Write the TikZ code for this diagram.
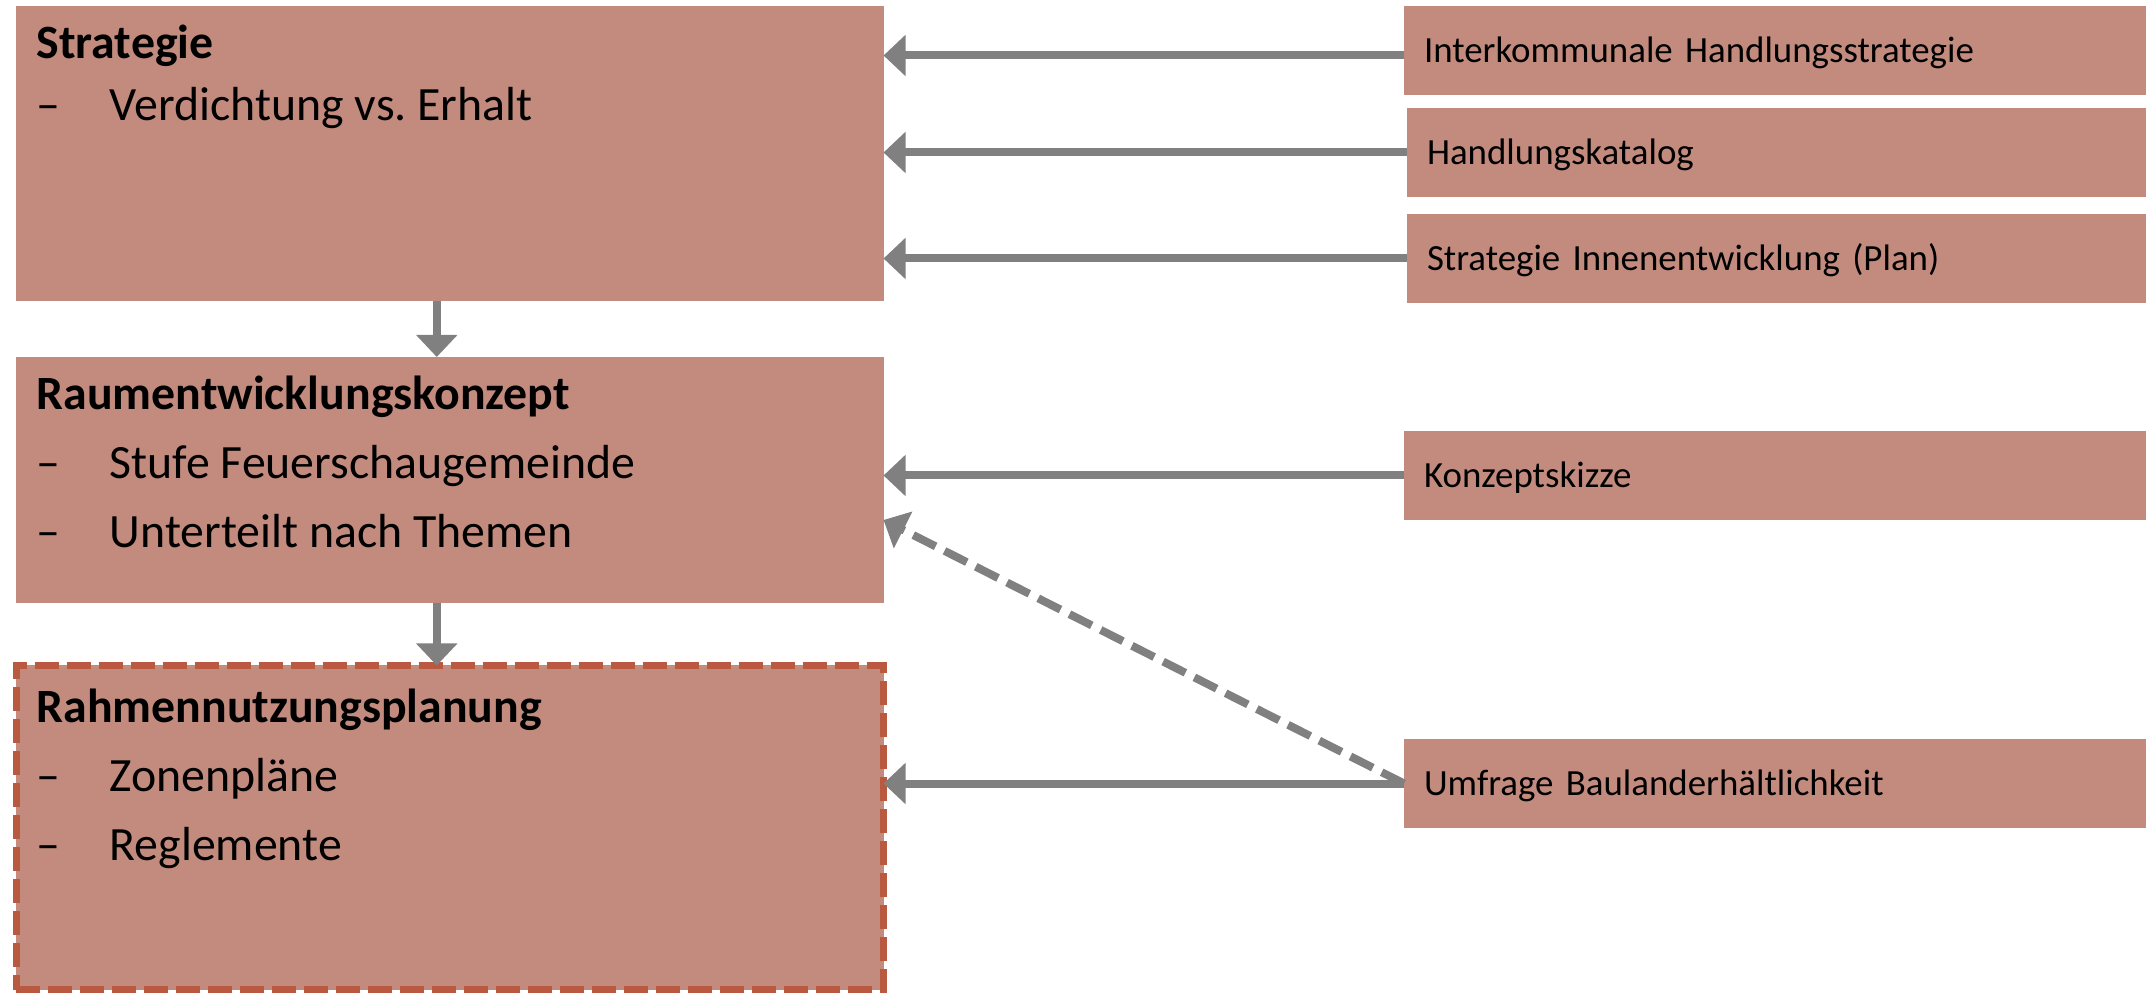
\documentclass[tikz,border=0pt]{standalone}
\usepackage{fontspec}
\setmainfont{Carlito}
\usepackage{tikz}
\usetikzlibrary{arrows.meta}
\usetikzlibrary{calc}
\frenchspacing

\definecolor{boxred}{RGB}{194,139,125}
\definecolor{edgered}{RGB}{184,89,64}
\definecolor{arrowgray}{RGB}{128,128,128}

\begin{document}
\begin{tikzpicture}[
    stage/.style = {fill=boxred, inner sep=0pt, outer sep=0pt, anchor=north west, minimum width=8.675cm},
    source/.style = {fill=boxred, anchor=west, outer sep=0pt, inner xsep=0.2cm, inner ysep=0pt,
        minimum height=0.89cm, text width=7.02cm, align=left, text height=0.238cm, text depth=0pt,
        font=\fontsize{10.5}{12}\selectfont},
    head/.style = {anchor=base west, inner sep=0pt, font=\fontsize{13.6}{16}\selectfont\bfseries},
    item/.style = {anchor=base west, inner sep=0pt, font=\fontsize{13.6}{16}\selectfont},
    feed/.style = {draw=arrowgray, line width=0.08cm, -{Triangle[length=0.22cm, width=0.40cm]}},
    ]
    \useasboundingbox (0,0) rectangle (21.46,-9.94);

    % left column
    \node[stage, minimum height=2.95cm] (strategie) at (0.16,-0.06) {};
    \node[stage, minimum height=2.46cm] (raum) at (0.16,-3.57) {};
    \node[stage, minimum height=3.24cm, draw=edgered, line width=0.07cm,
        dash pattern=on 0.24cm off 0.08cm] (rahmen) at (0.16,-6.655) {};

    \node[head] (strategie-head) at (0.36,-0.59) {Strategie};
    \node[item] (strategie-d1) at (0.36,-1.21) {–};
    \node[item] (strategie-t1) at (1.09,-1.21) {Verdichtung vs. Erhalt};

    \node[head] (raum-head) at (0.36,-4.10) {Raumentwicklungskonzept};
    \node[item] (raum-d1) at (0.36,-4.785) {–};
    \node[item] (raum-t1) at (1.09,-4.785) {Stufe Feuerschaugemeinde};
    \node[item] (raum-d2) at (0.36,-5.475) {–};
    \node[item] (raum-t2) at (1.09,-5.475) {Unterteilt nach Themen};

    \node[head] (rahmen-head) at (0.36,-7.22) {Rahmennutzungsplanung};
    \node[item] (rahmen-d1) at (0.36,-7.915) {–};
    \node[item] (rahmen-t1) at (1.09,-7.915) {Zonenpläne};
    \node[item] (rahmen-d2) at (0.36,-8.60) {–};
    \node[item] (rahmen-t2) at (1.09,-8.60) {Reglemente};

    % right column
    \node[source, minimum width=7.42cm] (interk) at (14.04,-0.505) {Interkommunale Handlungsstrategie};
    \node[source, minimum width=7.39cm] (handl) at (14.07,-1.525) {Handlungskatalog};
    \node[source, minimum width=7.39cm] (strati) at (14.07,-2.585) {Strategie Innenentwicklung (Plan)};
    \node[source, minimum width=7.42cm] (konz) at (14.04,-4.755) {Konzeptskizze};
    \node[source, minimum width=7.42cm] (umfr) at (14.04,-7.835) {Umfrage Baulanderhältlichkeit};

    % connectors
    \draw[feed] ([xshift=-0.13cm]strategie.south) -- ([xshift=-0.13cm]raum.north);
    \draw[feed] ([xshift=-0.13cm]raum.south) -- ([xshift=-0.13cm]rahmen.north);
    \draw[feed] ([yshift=-0.05cm]interk.west) -- ([yshift=-0.05cm]interk.west -| strategie.east);
    \draw[feed] (handl.west) -- (handl.west -| strategie.east);
    \draw[feed] (strati.west) -- (strati.west -| strategie.east);
    \draw[feed] (konz.west) -- (konz.west -| raum.east);
    \draw[feed] (umfr.west) -- (umfr.west -| rahmen.east);
    \draw[feed, dash pattern=on 0.25cm off 0.1cm] (umfr.west) -- ([yshift=-0.40cm]raum.east);
\end{tikzpicture}
\end{document}
